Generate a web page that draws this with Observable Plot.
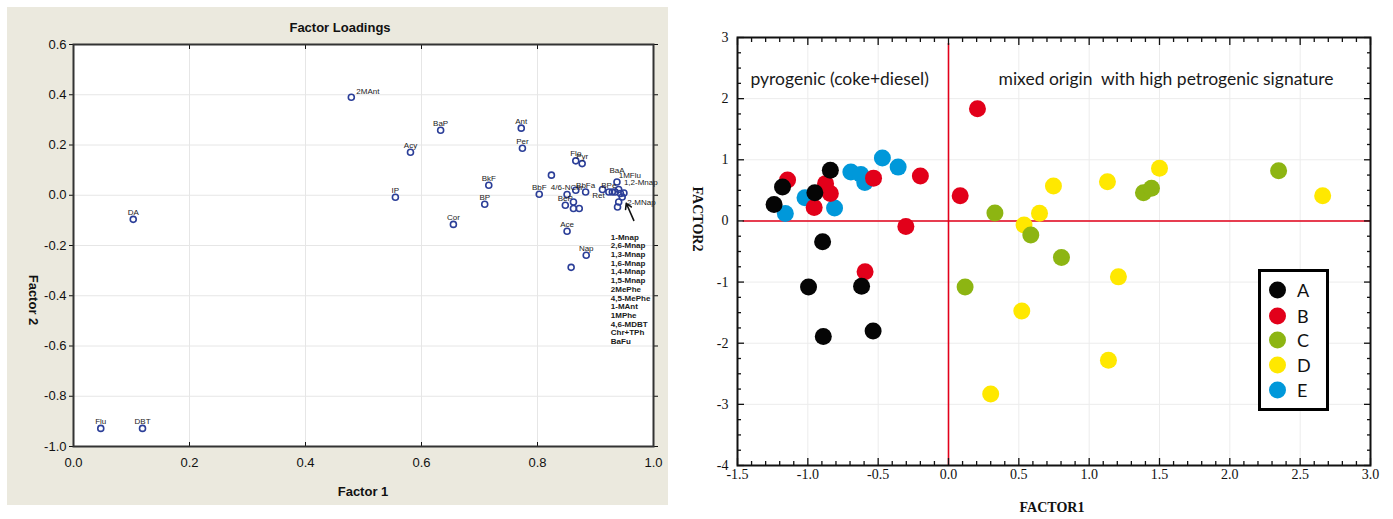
<!DOCTYPE html>
<html><head><meta charset="utf-8">
<script src="https://cdn.jsdelivr.net/npm/d3@7"></script>
<script src="https://cdn.jsdelivr.net/npm/@observablehq/plot@0.6"></script>
<style>
html,body{margin:0;padding:0;background:#fff;}
#page{position:relative;width:1393px;height:519px;overflow:hidden;background:#fff;}
#leftPanel{position:absolute;left:7px;top:7px;width:661px;height:498px;background:#ebe9de;}
#leftPanel svg{position:absolute;left:0;top:0;}
#rightPanel{position:absolute;left:690px;top:0;}
.lbl{position:absolute;white-space:nowrap;transform:translate(-50%,-50%);}
svg text{white-space:pre;}
#legend{position:absolute;left:1258px;top:269px;width:71px;height:142px;border:3px solid #000;box-sizing:border-box;background:#fff;}
.li{position:absolute;left:0;}
.sw{position:absolute;left:8px;width:17px;height:17px;border-radius:50%;transform:translateY(-50%);}
.lt{position:absolute;left:36px;font:18px Lato, sans-serif;transform:translateY(-50%);color:#111;}
</style></head>
<body><div id="page">
<div id="leftPanel"></div>
<div class="lbl" style="left:340px;top:27px;font:bold 13px 'Liberation Sans',Arial,sans-serif;color:#111;">Factor Loadings</div>
<div class="lbl" style="left:363px;top:491px;font:bold 13px 'Liberation Sans',Arial,sans-serif;color:#111;">Factor 1</div>
<div class="lbl" style="left:33px;top:300px;font:bold 13px 'Liberation Sans',Arial,sans-serif;color:#111;transform:translate(-50%,-50%) rotate(90deg);">Factor 2</div>
<div id="rightPanel"></div>
<div class="lbl" style="left:1052px;top:508px;font:bold 14px 'Liberation Serif',serif;color:#111;">FACTOR1</div>
<div class="lbl" style="left:697px;top:219px;font:bold 14px 'Liberation Serif',serif;color:#111;transform:translate(-50%,-50%) rotate(90deg);">FACTOR2</div>
<div id="legend"></div>
</div>
<script>
// ---------- Left panel: factor loadings ----------
const loadingName = ["2MAnt","BaP","Ant","Acy","Per","Flo","Pyr","BkF","IP","BP","Cor","DA","Flu","DBT",
  "","BbF","4/6-NChr","","BbFa","BeP","","","","Ace","Nap","",
  "Ret","BPe","","","BaA","1MFlu","","1,2-Mnap","2-MNap","",""];
const loadingF1 = [0.479,0.633,0.772,0.581,0.774,0.866,0.877,0.716,0.555,0.709,0.655,0.103,0.047,0.119,
  0.824,0.803,0.851,0.866,0.883,0.848,0.862,0.862,0.872,0.851,0.884,0.858,
  0.912,0.923,0.929,0.934,0.937,0.940,0.943,0.949,0.946,0.940,0.938];
const loadingF2 = [0.390,0.259,0.267,0.171,0.187,0.137,0.126,0.040,-0.008,-0.036,-0.116,-0.096,-0.928,-0.928,
  0.080,0.004,0.003,0.020,0.013,-0.040,-0.027,-0.053,-0.053,-0.143,-0.239,-0.287,
  0.023,0.013,0.013,0.013,0.053,0.023,0.007,0.009,-0.007,-0.027,-0.047];
const clusterList = ["1-Mnap","2,6-Mnap","1,3-Mnap","1,6-Mnap","1,4-Mnap","1,5-Mnap","2MePhe",
  "4,5-MePhe","1-MAnt","1MPhe","4,6-MDBT","Chr+TPh","BaFu"];
const loadTicksX = [0,0.2,0.4,0.6,0.8,1.0];
const loadTicksY = [-1.0,-0.8,-0.6,-0.4,-0.2,0,0.2,0.4,0.6];
const pointerArrow = {x1: 0.966, y1: -0.10, x2: 0.953, y2: -0.032};

// ---------- Right panel: factor scores ----------
const groups = ["A","B","C","D","E"];
const groupColors = ["#050505","#e2001a","#8db512","#ffe800","#0098da"];
const scoreGroup = ["A","A","A","A","A","A","A","A","A",
  "B","B","B","B","B","B","B","B","B","B",
  "C","C","C","C","C","C","C",
  "D","D","D","D","D","D","D","D","D","D",
  "E","E","E","E","E","E","E","E"];
const scoreF1 = [-1.18,-1.24,-0.95,-0.84,-0.895,-0.995,-0.618,-0.89,-0.536,
  -1.144,-0.955,-0.874,-0.84,-0.533,-0.20,-0.303,-0.593,0.083,0.206,
  0.33,0.585,0.803,0.118,1.386,1.443,2.347,
  0.537,0.647,0.746,0.521,0.30,1.13,1.208,1.137,1.50,2.66,
  -1.16,-1.02,-0.81,-0.694,-0.623,-0.595,-0.47,-0.358];
const scoreF2 = [0.556,0.27,0.46,0.83,-0.34,-1.08,-1.07,-1.89,-1.80,
  0.67,0.22,0.61,0.45,0.70,0.735,-0.09,-0.83,0.41,1.835,
  0.13,-0.23,-0.60,-1.08,0.46,0.535,0.82,
  -0.065,0.125,0.57,-1.475,-2.83,0.64,-0.915,-2.28,0.86,0.41,
  0.12,0.38,0.21,0.80,0.76,0.63,1.03,0.88];
const annotations = ["pyrogenic (coke+diesel)", "mixed origin  with high petrogenic signature"];

// ===== Left chart =====
const loadings = loadingName.map((name, i) => ({name, f1: loadingF1[i], f2: loadingF2[i]}));
const special = ["2MAnt","BaA","1MFlu","1,2-Mnap","2-MNap","Ret"];
const lab = (names, opts) => Plot.text(loadings.filter(d => names.includes(d.name)),
  {x: "f1", y: "f2", text: "name", fontSize: 8, fill: "#1a1a1a", ...opts});
const fmt1 = d => d.toFixed(1);

const left = Plot.plot({
  width: 661, height: 498,
  marginLeft: 66, marginRight: 15, marginTop: 37, marginBottom: 59,
  style: {background: "transparent", fontFamily: "'Liberation Sans', Arial, sans-serif", color: "#111"},
  x: {domain: [0, 1], axis: null},
  y: {domain: [-1, 0.6], axis: null},
  marks: [
    Plot.frame({fill: "#fff"}),
    Plot.gridX(loadTicksX, {stroke: "#e6e6e6", strokeOpacity: 1}),
    Plot.gridY(loadTicksY, {stroke: "#e6e6e6", strokeOpacity: 1}),
    Plot.axisX({ticks: loadTicksX, anchor: "bottom", tickSize: -4, tickFormat: () => "", label: null}),
    Plot.axisX({ticks: loadTicksX, anchor: "top", tickSize: -4, tickFormat: () => "", label: null}),
    Plot.axisY({ticks: loadTicksY, anchor: "left", tickSize: 4, tickFormat: () => "", label: null}),
    Plot.axisY({ticks: loadTicksY, anchor: "right", tickSize: 4, tickFormat: () => "", label: null}),
    Plot.axisX({ticks: loadTicksX, anchor: "bottom", tickSize: 0, tickPadding: 11, tickFormat: fmt1, label: null, fontSize: 13}),
    Plot.axisY({ticks: loadTicksY, anchor: "left", tickSize: 0, tickPadding: 7, tickFormat: fmt1, label: null, fontSize: 13}),
    Plot.dot(loadings, {x: "f1", y: "f2", r: 3, stroke: "#2b3e98", strokeWidth: 1.6, fill: "none"}),
    lab(loadingName.filter(n => n && !special.includes(n)), {dy: -7}),
    lab(["BaA"], {dy: -11}),
    lab(["2MAnt"], {textAnchor: "start", dx: 5, dy: -6}),
    lab(["1MFlu"], {textAnchor: "start", dx: 0, dy: -14}),
    lab(["1,2-Mnap"], {textAnchor: "start", dx: 0, dy: -11}),
    lab(["2-MNap"], {textAnchor: "start", dx: 5, dy: 5}),
    lab(["Ret"], {dx: -4, dy: 6}),
    Plot.arrow([pointerArrow], {x1: "x1", y1: "y1", x2: "x2", y2: "y2", stroke: "#111", strokeWidth: 1.6, headLength: 9}),
    Plot.text([clusterList.join("\n")], {x: () => pointerArrow.x1, y: () => pointerArrow.y1, text: d => d,
      textAnchor: "start", lineAnchor: "top", dx: -23, dy: 13, lineHeight: 1.09, fontSize: 8, fontWeight: "bold", fill: "#1a1a1a"}),
    Plot.frame({stroke: "#333", strokeWidth: 2})
  ]
});
document.getElementById("leftPanel").appendChild(left);

// ===== Right chart =====
const scores = scoreGroup.map((g, i) => ({group: g, f1: scoreF1[i], f2: scoreF2[i]}));
const drawOrder = ["E","D","C","B","A"];
const scoresOrdered = drawOrder.flatMap(g => scores.filter(d => d.group === g));
const xMajor = d3.range(-15, 31, 5).map(d => d / 10);
const xMinor = d3.range(-15, 31, 1).filter(d => d % 5 !== 0).map(d => d / 10);
const yMajor = d3.range(-4, 4);
const yMinor = d3.range(-16, 13).filter(d => d % 4 !== 0).map(d => d / 4);

const tickAxes = (ticks, size) => [
  Plot.axisX({ticks, anchor: "bottom", tickSize: -size, tickFormat: () => "", label: null, strokeWidth: 1.3}),
  Plot.axisX({ticks, anchor: "top", tickSize: -size, tickFormat: () => "", label: null, strokeWidth: 1.3})
];
const tickAxesY = (ticks, size) => [
  Plot.axisY({ticks, anchor: "left", tickSize: -size, tickFormat: () => "", label: null, strokeWidth: 1.3}),
  Plot.axisY({ticks, anchor: "right", tickSize: -size, tickFormat: () => "", label: null, strokeWidth: 1.3})
];

const right = Plot.plot({
  width: 703, height: 519,
  marginLeft: 47, marginRight: 23, marginTop: 37, marginBottom: 54,
  style: {background: "transparent", fontFamily: "'Liberation Serif', 'Times New Roman', serif", color: "#111"},
  x: {domain: [-1.5, 3], axis: null},
  y: {domain: [-4, 3], axis: null},
  color: {domain: groups, range: groupColors},
  marks: [
    Plot.gridX(xMajor, {stroke: "#ececec", strokeOpacity: 1}),
    Plot.gridY(yMajor, {stroke: "#ececec", strokeOpacity: 1}),
    Plot.ruleX([0], {y1: -4, y2: 2.9, stroke: "#e2001a", strokeWidth: 1.6}),
    Plot.ruleY([0], {x1: -1.46, x2: 3, stroke: "#e2001a", strokeWidth: 1.6}),
    Plot.dot(scoresOrdered, {x: "f1", y: "f2", fill: "group", r: 8.5}),
    ...tickAxes(xMajor, 7), ...tickAxes(xMinor, 4),
    ...tickAxesY(yMajor, 7), ...tickAxesY(yMinor, 4),
    Plot.axisX({ticks: xMajor, anchor: "bottom", tickSize: 0, tickPadding: 4, tickFormat: fmt1, label: null, fontSize: 14}),
    Plot.axisY({ticks: yMajor, anchor: "left", tickSize: 0, tickPadding: 9, tickFormat: d => String(d), label: null, fontSize: 14}),
    Plot.text([annotations[0]], {frameAnchor: "top-left", text: d => d, textAnchor: "start", dx: 13, dy: 35,
      fontFamily: "Lato, sans-serif", fontSize: 17.5, fill: "#1a1a1a"}),
    Plot.text([annotations[1]], {x: () => 0, frameAnchor: "top", text: d => d, textAnchor: "start", dx: 50, dy: 35,
      fontFamily: "Lato, sans-serif", fontSize: 17.5, fill: "#1a1a1a"}),
    Plot.frame({stroke: "#111", strokeWidth: 2})
  ]
});
document.getElementById("rightPanel").appendChild(right);

// legend
const legend = document.getElementById("legend");
const legendTops = [18, 44, 68, 93, 118];
groups.forEach((g, i) => {
  const item = document.createElement("div");
  item.className = "li";
  item.style.top = legendTops[i] + "px";
  item.innerHTML = `<div class="sw" style="background:${groupColors[i]}"></div><div class="lt">${g}</div>`;
  legend.appendChild(item);
});
</script>
</body></html>
